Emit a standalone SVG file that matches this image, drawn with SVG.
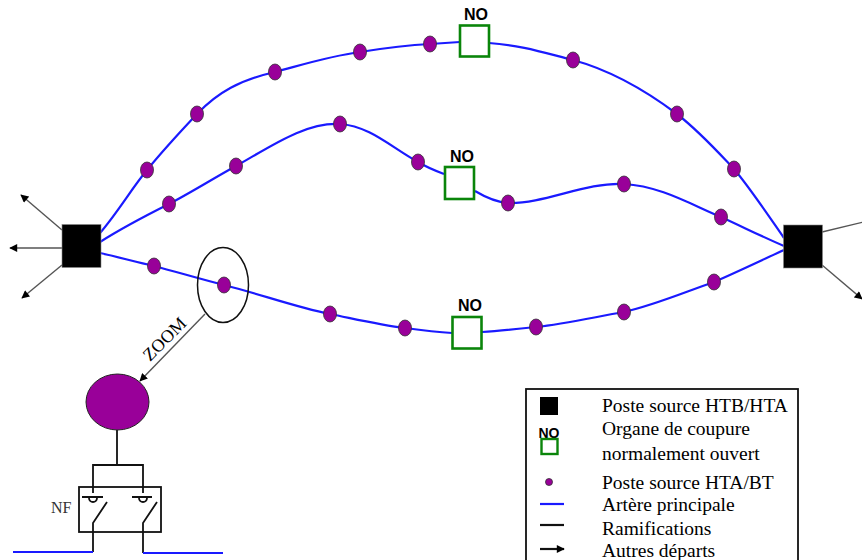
<svg xmlns="http://www.w3.org/2000/svg" width="862" height="560" viewBox="0 0 862 560">
<style>
.art{fill:none;stroke:#1a1aff;stroke-width:2.2}
.br{fill:none;stroke:#111;stroke-width:1.8}
.dep{fill:none;stroke:#555;stroke-width:1.4;marker-end:url(#ah)}
.dot{fill:#990099;stroke:#333;stroke-width:.8}
.no{fill:#fff;stroke:#0a850a;stroke-width:2.6}
.sq{fill:#000;stroke:#888;stroke-width:.6}
.nol{font:bold 16px "Liberation Sans",Arial,sans-serif;fill:#000;text-anchor:middle}
.lg{font:19.500px "Liberation Serif","Times New Roman",serif;fill:#000}
</style>
<defs>
<marker id="ah" viewBox="0 0 10 10" refX="9" refY="5" markerWidth="9" markerHeight="8" markerUnits="userSpaceOnUse" orient="auto"><path d="M0 0L10 5L0 10Z" fill="#000"/></marker>
</defs>
<rect width="862" height="560" fill="#fff"/>
<g id="connectors">
<path class="art" d="M100 233C118 212 132 188 147 170C165 148 180 132 197 114C218 92 240 80 275 72C305 64 330 56 360 52C385 48 410 45 430 44L460 42M489 43C520 45 545 53 573 60C610 70 645 90 677 114C700 132 716 150 734 169C750 188 768 215 784 238"/>
<path class="art" d="M100 242C122 228 145 216 169 204C192 192 214 178 236 166C270 147 305 122 340 124C370 126 392 148 418 162C428 168 436 171 444 174M475 191C485 197 495 202 508 203C545 204 585 182 624 184C660 186 690 204 721 217C745 228 765 238 784 246"/>
<path class="art" d="M100 253C118 257 136 262 154 266C177 272 200 279 224 285C260 294 295 307 330 314C355 319 380 325 405 328C420 330 436 332 452 333M482 332C500 331 518 329 536 327C565 324 595 317 624 312C655 305 685 292 714 282C737 272 762 260 784 250"/>
<path class="dep" d="M62 230L21 195"/>
<path class="dep" d="M62 248L10 248"/>
<path class="dep" d="M62 265L22 298"/>
<path class="dep" d="M822 232L876 219"/>
<path class="dep" d="M822 265L862 299"/>
<path class="dep" d="M205 314L140 381"/>
<path class="br" d="M117 430V465M93 493V465H143V493"/>
<path class="br" d="M82 497H103M132 497H152"/>
<path class="br" d="M89 498A4 4 0 0 0 97 498M139 498A4 4 0 0 0 147 498"/>
<path class="br" d="M107 502L93 523V552M157 502L143 523V553"/>
<path class="art" d="M13 552H93M143 553H223"/>
</g>
<g id="zoom-ellipse"><ellipse cx="223" cy="285" rx="25.500" ry="37.500" fill="none" stroke="#111" stroke-width="1.500"/></g>
<g id="stations">
<rect class="sq" x="62" y="224.500" width="39" height="43"/>
<rect class="sq" x="783.500" y="225" width="39" height="43"/>
</g>
<g id="substations">
<ellipse class="dot" cx="147" cy="170" rx="6.500" ry="8"/>
<ellipse class="dot" cx="197" cy="114" rx="6.500" ry="8"/>
<ellipse class="dot" cx="275" cy="72" rx="6.500" ry="8"/>
<ellipse class="dot" cx="360" cy="52" rx="6.500" ry="8"/>
<ellipse class="dot" cx="430" cy="44" rx="6.500" ry="8"/>
<ellipse class="dot" cx="573" cy="60" rx="6.500" ry="8"/>
<ellipse class="dot" cx="677" cy="114" rx="6.500" ry="8"/>
<ellipse class="dot" cx="734" cy="169" rx="6.500" ry="8"/>
<ellipse class="dot" cx="169" cy="204" rx="6.500" ry="8"/>
<ellipse class="dot" cx="236" cy="166" rx="6.500" ry="8"/>
<ellipse class="dot" cx="340" cy="124" rx="6.500" ry="8"/>
<ellipse class="dot" cx="418" cy="162" rx="6.500" ry="8"/>
<ellipse class="dot" cx="508" cy="203" rx="6.500" ry="8"/>
<ellipse class="dot" cx="624" cy="184" rx="6.500" ry="8"/>
<ellipse class="dot" cx="721" cy="217" rx="6.500" ry="8"/>
<ellipse class="dot" cx="154" cy="266" rx="6.500" ry="8"/>
<ellipse class="dot" cx="224" cy="285" rx="6.500" ry="8"/>
<ellipse class="dot" cx="330" cy="314" rx="6.500" ry="8"/>
<ellipse class="dot" cx="405" cy="328" rx="6.500" ry="8"/>
<ellipse class="dot" cx="536" cy="327" rx="6.500" ry="8"/>
<ellipse class="dot" cx="624" cy="312" rx="6.500" ry="8"/>
<ellipse class="dot" cx="714" cy="282" rx="6.500" ry="8"/>
</g>
<g id="no-1"><rect class="no" x="460" y="25.500" width="29" height="31"/><text class="nol" x="476" y="20">NO</text></g>
<g id="no-2"><rect class="no" x="445" y="167" width="29" height="32"/><text class="nol" x="462" y="162">NO</text></g>
<g id="no-3"><rect class="no" x="452.500" y="317" width="29" height="31.500"/><text class="nol" x="470" y="311">NO</text></g>
<g id="zoom-label"><text x="0" y="0" transform="translate(150 362) rotate(-45)" style="font:18px 'Liberation Serif',serif">ZOOM</text></g>
<g id="big-substation"><ellipse cx="117.500" cy="402" rx="31.500" ry="28" fill="#990099" stroke="#222" stroke-width="1"/></g>
<g id="nf-switch">
<rect x="79" y="487" width="82" height="45" fill="none" stroke="#111" stroke-width="1.800"/>
<text x="51" y="513" style="font:16px 'Liberation Serif',serif;fill:#333">NF</text>
</g>
<g id="legend">
<rect x="526" y="389" width="272" height="175" fill="#fff" stroke="#111" stroke-width="1.800"/>
<rect x="540" y="397" width="18" height="18" fill="#000"/>
<text class="lg" x="602" y="412">Poste source HTB/HTA</text>
<text class="nol" x="549" y="438" style="font-size:14px">NO</text>
<rect x="541.500" y="439" width="16" height="15" fill="#fff" stroke="#0a850a" stroke-width="2.400"/>
<text class="lg" x="602" y="435">Organe de coupure</text>
<text class="lg" x="602" y="460">normalement ouvert</text>
<circle cx="549" cy="482" r="3.500" class="dot"/>
<text class="lg" x="602" y="489">Poste source HTA/BT</text>
<path d="M540 504H564" stroke="#1a1aff" stroke-width="2.200"/>
<text class="lg" x="602" y="511">Artère principale</text>
<path d="M540 525H564" stroke="#111" stroke-width="2.200"/>
<text class="lg" x="602" y="535">Ramifications</text>
<path d="M540 549H564" stroke="#111" stroke-width="2.200" marker-end="url(#ah)"/>
<text class="lg" x="602" y="557">Autres départs</text>
</g>
</svg>
